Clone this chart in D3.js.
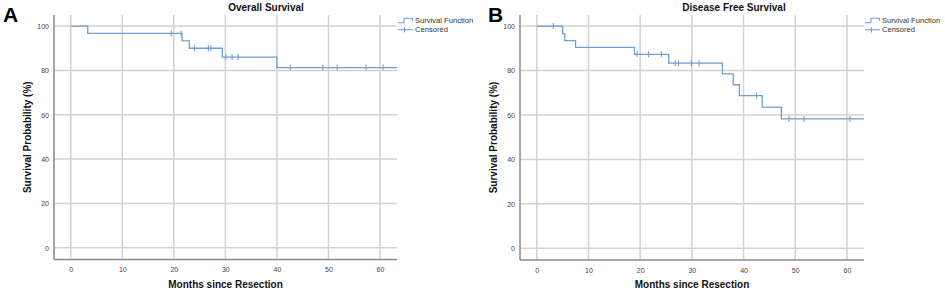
<!DOCTYPE html>
<html>
<head>
<meta charset="utf-8">
<script src="https://cdn.jsdelivr.net/npm/d3@7"></script>
<style>
  body { margin: 0; background: #fff; }
  svg { display: block; font-family: "Liberation Sans", Arial, sans-serif; }
</style>
</head>
<body>
<svg id="chart" width="945" height="293"></svg>
<script>
// tick values shared by both panels
var xTicks = [0, 10, 20, 30, 40, 50, 60];
var yTicks = [0, 20, 40, 60, 80, 100];

// Overall survival: step times (months) and survival (%)
var osTimes = [0, 3.3, 21.6, 23.0, 29.4, 40.0];
var osSurvival = [100, 96.7, 93.3, 90.0, 86.0, 81.3];
var osCensored = [19.5, 21.4, 24.0, 26.7, 27.2, 30.1, 31.3, 32.5, 42.6, 48.9, 51.7, 57.3, 60.6];

// Disease free survival
var dfsTimes = [0, 5.0, 5.4, 7.5, 18.9, 25.5, 35.9, 38.0, 39.2, 43.6, 47.3];
var dfsSurvival = [100, 96.6, 93.5, 90.4, 87.3, 83.3, 78.5, 73.6, 68.7, 63.5, 58.2];
var dfsCensored = [3.2, 19.4, 21.6, 24.1, 26.8, 27.4, 29.9, 31.4, 42.5, 48.8, 51.7, 60.6];

var followUpEnd = 63.5;

var svg = d3.select("#chart");
var lineColor = "#6f9fd3";

drawPanel({
  letter: "A", title: "Overall Survival",
  left: 54, right: 397, top: 15, bottom: 259.5,
  titleX: 266, letterX: 3,
  times: osTimes, survival: osSurvival, censored: osCensored
});

drawPanel({
  letter: "B", title: "Disease Free Survival",
  left: 520, right: 864, top: 15, bottom: 260,
  titleX: 734, letterX: 488,
  times: dfsTimes, survival: dfsSurvival, censored: dfsCensored
});

function drawPanel(p) {
  var x = d3.scaleLinear().domain([-3.25, 63.3]).range([p.left, p.right]);
  var y = d3.scaleLinear().domain([-5.3, 105]).range([p.bottom, p.top]);

  var g = svg.append("g");

  // grid
  g.selectAll(".vgrid").data(xTicks).enter().append("line")
    .attr("x1", function(d) { return x(d); })
    .attr("x2", function(d) { return x(d); })
    .attr("y1", p.top).attr("y2", p.bottom)
    .attr("stroke", "#d2d2d2").attr("stroke-width", 1.5);

  g.selectAll(".hgrid").data(yTicks).enter().append("line")
    .attr("x1", p.left).attr("x2", p.right)
    .attr("y1", function(d) { return y(d); })
    .attr("y2", function(d) { return y(d); })
    .attr("stroke", "#d2d2d2").attr("stroke-width", 1.5);

  // axes (labels only, no tick marks)
  var xAxis = g.append("g")
    .attr("transform", "translate(0," + p.bottom + ")")
    .call(d3.axisBottom(x).tickValues(xTicks).tickSize(0).tickPadding(8));
  var yAxis = g.append("g")
    .attr("transform", "translate(" + p.left + ",0)")
    .call(d3.axisLeft(y).tickValues(yTicks).tickSize(0).tickPadding(5));

  [xAxis, yAxis].forEach(function(a) {
    a.select(".domain").remove();
    a.selectAll("text")
      .attr("font-family", "Liberation Sans, Arial, sans-serif")
      .attr("font-size", 7).attr("fill", "#444");
  });

  g.append("line")
    .attr("x1", p.left).attr("x2", p.left)
    .attr("y1", p.top).attr("y2", p.bottom)
    .attr("stroke", "#8a8a8a").attr("stroke-width", 1.5);
  g.append("line")
    .attr("x1", p.left).attr("x2", p.right)
    .attr("y1", p.bottom).attr("y2", p.bottom)
    .attr("stroke", "#8a8a8a").attr("stroke-width", 1.5);

  // survival step function
  var pts = p.times.map(function(t, i) { return [t, p.survival[i]]; });
  pts.push([followUpEnd, p.survival[p.survival.length - 1]]);

  var line = d3.line()
    .x(function(d) { return x(Math.min(d[0], 63.3)); })
    .y(function(d) { return y(d[1]); })
    .curve(d3.curveStepAfter);

  g.append("path")
    .datum(pts)
    .attr("d", line)
    .attr("fill", "none")
    .attr("stroke", lineColor)
    .attr("stroke-width", 1.3);

  // censor marks
  function survAt(t) {
    var s = p.survival[0];
    p.times.forEach(function(tt, i) { if (tt <= t) s = p.survival[i]; });
    return s;
  }
  g.selectAll(".censor").data(p.censored).enter().append("line")
    .attr("x1", function(d) { return x(d); })
    .attr("x2", function(d) { return x(d); })
    .attr("y1", function(d) { return y(survAt(d)) - 3; })
    .attr("y2", function(d) { return y(survAt(d)) + 3; })
    .attr("stroke", lineColor).attr("stroke-width", 1.1);

  // titles
  g.append("text")
    .attr("x", p.titleX).attr("y", 11)
    .attr("text-anchor", "middle")
    .attr("font-size", 10).attr("font-weight", "bold").attr("fill", "#111")
    .text(p.title);

  g.append("text")
    .attr("x", (p.left + p.right) / 2).attr("y", 288)
    .attr("text-anchor", "middle")
    .attr("font-size", 10).attr("font-weight", "bold").attr("fill", "#111")
    .text("Months since Resection");

  g.append("text")
    .attr("transform", "translate(" + (p.left - 23.5) + "," + ((p.top + p.bottom) / 2) + ") rotate(-90)")
    .attr("text-anchor", "middle")
    .attr("font-size", 10).attr("font-weight", "bold").attr("fill", "#111")
    .text("Survival Probability (%)");

  g.append("text")
    .attr("x", p.letterX).attr("y", 22)
    .attr("font-size", 21).attr("font-weight", "bold").attr("fill", "#000")
    .text(p.letter);

  // legend
  var lx = p.right + 1;
  g.append("path")
    .attr("d", "M" + lx + ",22.7H" + (lx + 6) + "V18.3H" + (lx + 14.5) + "V20.8")
    .attr("fill", "none").attr("stroke", lineColor).attr("stroke-width", 1.1);
  g.append("line")
    .attr("x1", lx).attr("x2", lx + 15).attr("y1", 29.7).attr("y2", 29.7)
    .attr("stroke", lineColor).attr("stroke-width", 1.1);
  g.append("line")
    .attr("x1", lx + 6.5).attr("x2", lx + 6.5).attr("y1", 27).attr("y2", 32.5)
    .attr("stroke", lineColor).attr("stroke-width", 1.1);

  g.append("text")
    .attr("x", lx + 17).attr("y", 23)
    .attr("font-size", 7.6).attr("fill", "#333")
    .text("Survival Function");
  g.append("text")
    .attr("x", lx + 17).attr("y", 32.4)
    .attr("font-size", 7.6).attr("fill", "#333")
    .text("Censored");
}
</script>
</body>
</html>
